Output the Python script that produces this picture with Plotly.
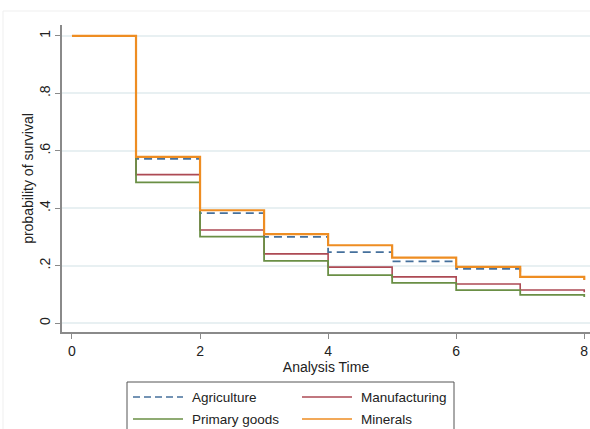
import plotly.graph_objects as go

# Kaplan-Meier survival estimates by sector
analysis_time = [0, 1, 2, 3, 4, 5, 6, 7, 8]
agriculture = [1.0, 0.572, 0.383, 0.300, 0.247, 0.215, 0.189, 0.161, 0.156]
manufacturing = [1.0, 0.517, 0.324, 0.241, 0.195, 0.161, 0.136, 0.115, 0.107]
primary_goods = [1.0, 0.490, 0.301, 0.217, 0.167, 0.140, 0.115, 0.098, 0.091]
minerals = [1.0, 0.579, 0.393, 0.310, 0.271, 0.228, 0.196, 0.161, 0.150]

y_ticks = [0, 0.2, 0.4, 0.6, 0.8, 1]
y_tick_labels = ["0", ".2", ".4", ".6", ".8", "1"]
x_ticks = [0, 2, 4, 6, 8]

series = [
    ("Agriculture", agriculture, "#45709c", "8px,5px", 1.8),
    ("Manufacturing", manufacturing, "#ad4a54", "solid", 1.6),
    ("Primary goods", primary_goods, "#6a8f45", "solid", 1.8),
    ("Minerals", minerals, "#ee8d22", "solid", 2.2),
]

fig = go.Figure()
for name, vals, color, dash, width in series:
    fig.add_trace(go.Scatter(
        x=analysis_time, y=vals, name=name, mode="lines", showlegend=False,
        line=dict(color=color, dash=dash, width=width, shape="hv"),
    ))

grid_color = "#e8f0f2"
axis_color = "#8a8a8a"

# plot area geometry in pixels (used to place the key below the axes)
W, H = 590, 429
ML, MR, MT, MB = 62, 0, 25, 97
PW, PH = W - ML - MR, H - MT - MB


def px_x(px):
    return (px - ML) / PW


def px_y(py):
    return (H - MB - py) / PH


fig.update_layout(
    width=W, height=H,
    margin=dict(l=ML, r=MR, t=MT, b=MB),
    paper_bgcolor="white", plot_bgcolor="white",
    font=dict(family="Liberation Sans, Arial, sans-serif", size=14, color="#222"),
    xaxis=dict(
        range=[-0.156, 8.09], tickvals=x_ticks, ticks="outside", ticklen=5,
        tickcolor=axis_color, showline=True, linecolor=axis_color, linewidth=1.5,
        showgrid=False, zeroline=False,
        title=dict(text="Analysis Time", standoff=0, font=dict(size=14)),
        tickfont=dict(size=14),
    ),
    yaxis=dict(
        range=[-0.031, 1.038], tickvals=y_ticks, ticktext=y_tick_labels,
        tickangle=-90, ticks="outside", ticklen=5, tickcolor=axis_color,
        showline=True, linecolor=axis_color, linewidth=1.5,
        showgrid=True, gridcolor=grid_color, gridwidth=1.5, zeroline=False,
        title=dict(text="probability of survival", standoff=0, font=dict(size=14)),
        tickfont=dict(size=14),
    ),
)

# faint outer frame of the graph region
fig.add_shape(
    type="rect", xref="paper", yref="paper",
    x0=px_x(3), x1=px_x(600), y0=px_y(440), y1=px_y(11),
    line=dict(color="#efefef", width=1), layer="below",
)

# key: two columns, two rows
fig.add_shape(
    type="rect", xref="paper", yref="paper",
    x0=px_x(127), x1=px_x(454), y0=px_y(445), y1=px_y(382),
    line=dict(color="#555555", width=1), fillcolor="white",
)
key_cols = [133, 302]
key_rows = [397, 419]
key_order = [0, 1, 2, 3]
for slot, idx in enumerate(key_order):
    name, _, color, dash, width = series[idx]
    cx = key_cols[slot % 2]
    cy = key_rows[slot // 2]
    fig.add_shape(
        type="line", xref="paper", yref="paper",
        x0=px_x(cx), x1=px_x(cx + 50), y0=px_y(cy), y1=px_y(cy),
        line=dict(color=color, width=1.6, dash="7px,4px" if dash != "solid" else "solid"),
    )
    fig.add_annotation(
        xref="paper", yref="paper", x=px_x(cx + 57), y=px_y(cy),
        text=name, showarrow=False, xanchor="left", yanchor="middle",
        font=dict(size=13.5, color="#222"),
    )

fig.write_html("out.html")
